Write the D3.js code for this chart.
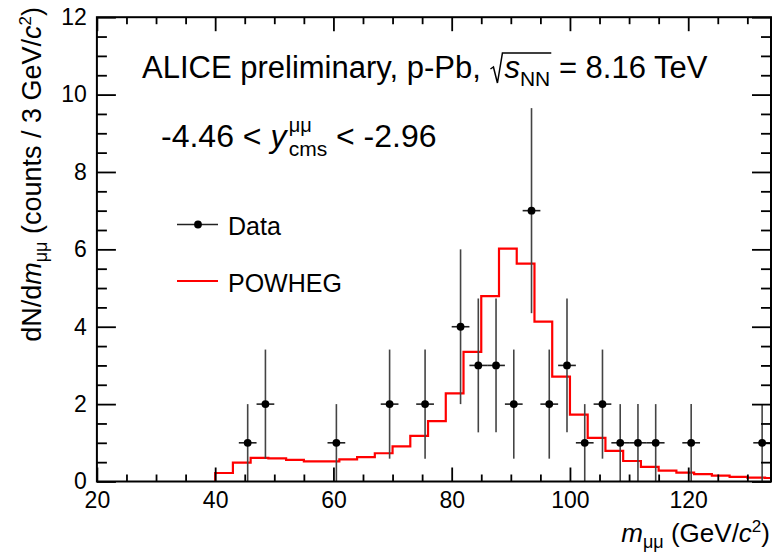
<!DOCTYPE html>
<html>
<head>
<meta charset="utf-8">
<script src="https://cdn.jsdelivr.net/npm/d3@7"></script>
<style>
  body { margin: 0; background: #fff; }
  svg { display: block; font-family: "Liberation Sans", Arial, Helvetica, sans-serif; }
  text { white-space: pre; }
  .tick line { stroke: #000; stroke-width: 1.8; }
  .tick text { fill: #000; font-size: 23px; }
</style>
</head>
<body>
<svg id="chart" width="773" height="553" xml:space="preserve"></svg>
<script>
// data points (bin centres in GeV/c2), counts and their errors
const dataMass   = [45.5, 48.5, 60.5, 69.5, 75.5, 81.5, 84.5, 87.5, 90.5, 93.5, 96.5, 99.5, 102.5, 105.5, 108.5, 111.5, 114.5, 120.5, 132.5];
const dataCounts = [1, 2, 1, 2, 2, 4, 3, 3, 2, 7, 2, 3, 1, 2, 1, 1, 1, 1, 1];
const dataErr    = [1, 1.41, 1, 1.41, 1.41, 2, 1.73, 1.73, 1.41, 2.65, 1.41, 1.73, 1, 1.41, 1, 1, 1, 1, 1];
const dataHalfBin = 1.5;

// POWHEG histogram, 3 GeV bins starting at 40
const powhegStart = 40;
const powhegBinW = 3;
const powhegVals = [0.22, 0.49, 0.61, 0.60, 0.56, 0.52, 0.52, 0.57, 0.63, 0.73, 0.91, 1.18, 1.56, 2.28,
                    3.35, 4.79, 6.02, 5.63, 4.13, 2.71, 1.73, 1.13, 0.79, 0.53, 0.38, 0.28, 0.23, 0.19,
                    0.15, 0.12, 0.10, 0.09];

const xMajor = [20, 40, 60, 80, 100, 120];
const xMinor = d3.range(25, 134, 5).filter(v => v % 20 !== 0);
const yMajor = [0, 2, 4, 6, 8, 10, 12];
const yMinor = d3.range(0.5, 12, 0.5).filter(v => v % 2 !== 0);

const svg = d3.select("#chart");
const L = 96.9, R = 771, T = 17.2, B = 481.5;
const x = d3.scaleLinear().domain([20, 134]).range([L, R]);
const y = d3.scaleLinear().domain([0, 12]).range([B, T]);

svg.append("rect").attr("width", 773).attr("height", 553).attr("fill", "#fff");

svg.append("clipPath").attr("id", "frameclip")
  .append("rect").attr("x", L).attr("y", T).attr("width", R - L).attr("height", B - T);

// rich text: runs laid out one after another, measured in the browser
function richText(parent, runs) {
  const g = parent.append("g");
  let cx = 0;
  const pos = {};
  runs.forEach(r => {
    if (r.space) { pos[r.id] = [cx, cx + r.space]; cx += r.space; return; }
    const parts = r.stack || [r];
    let adv = 0;
    parts.forEach(p => {
      const el = g.append("text")
        .attr("x", cx)
        .attr("y", p.dy || 0)
        .style("font-size", p.fs + "px")
        .style("font-style", p.i ? "italic" : "normal")
        .text(p.t);
      adv = Math.max(adv, el.node().getComputedTextLength());
    });
    if (r.id) pos[r.id] = [cx, cx + adv];
    cx += adv;
  });
  return { g: g, width: cx, pos: pos };
}

// POWHEG step line
const stepPts = [[powhegStart, 0]].concat(powhegVals.map((v, i) => [powhegStart + i * powhegBinW, v]));
stepPts.push([powhegStart + powhegVals.length * powhegBinW, powhegVals[powhegVals.length - 1]]);
svg.append("path")
  .attr("clip-path", "url(#frameclip)")
  .attr("d", d3.line().x(d => x(d[0])).y(d => y(d[1])).curve(d3.curveStepAfter)(stepPts))
  .attr("fill", "none")
  .attr("stroke", "#ff0000")
  .attr("stroke-width", 2.2);

// data with error bars
const pts = svg.append("g").selectAll("g").data(dataMass).join("g");
pts.append("line")
  .attr("x1", d => x(d)).attr("x2", d => x(d))
  .attr("y1", (d, i) => y(Math.max(0, dataCounts[i] - dataErr[i])))
  .attr("y2", (d, i) => y(dataCounts[i] + dataErr[i]))
  .attr("stroke", "#444").attr("stroke-width", 1.6);
pts.append("line")
  .attr("x1", d => x(d - dataHalfBin)).attr("x2", d => x(d + dataHalfBin))
  .attr("y1", (d, i) => y(dataCounts[i])).attr("y2", (d, i) => y(dataCounts[i]))
  .attr("stroke", "#222").attr("stroke-width", 1.6);
pts.append("circle")
  .attr("cx", d => x(d)).attr("cy", (d, i) => y(dataCounts[i]))
  .attr("r", 3.9).attr("fill", "#000");

// axes, ROOT style: ticks inside on all four sides
svg.append("g").attr("transform", `translate(0,${B})`)
  .call(d3.axisBottom(x).tickValues(xMajor).tickSize(-14).tickPadding(10).tickFormat(d3.format("d")))
  .call(g => g.select(".domain").remove());
svg.append("g").attr("transform", `translate(0,${B})`)
  .call(d3.axisBottom(x).tickValues(xMinor).tickSize(-7).tickFormat(""))
  .call(g => g.select(".domain").remove());
svg.append("g").attr("transform", `translate(0,${T})`)
  .call(d3.axisTop(x).tickValues(xMajor).tickSize(-14).tickFormat(""))
  .call(g => g.select(".domain").remove());
svg.append("g").attr("transform", `translate(0,${T})`)
  .call(d3.axisTop(x).tickValues(xMinor).tickSize(-7).tickFormat(""))
  .call(g => g.select(".domain").remove());

svg.append("g").attr("transform", `translate(${L},0)`)
  .call(d3.axisLeft(y).tickValues(yMajor).tickSize(-19).tickPadding(10).tickFormat(d3.format("d")))
  .call(g => g.select(".domain").remove());
svg.append("g").attr("transform", `translate(${L},0)`)
  .call(d3.axisLeft(y).tickValues(yMinor).tickSize(-10).tickFormat(""))
  .call(g => g.select(".domain").remove());
svg.append("g").attr("transform", `translate(${R},0)`)
  .call(d3.axisRight(y).tickValues(yMajor).tickSize(-19).tickFormat(""))
  .call(g => g.select(".domain").remove());
svg.append("g").attr("transform", `translate(${R},0)`)
  .call(d3.axisRight(y).tickValues(yMinor).tickSize(-10).tickFormat(""))
  .call(g => g.select(".domain").remove());

svg.selectAll(".tick text").attr("font-family", null);

svg.append("rect")
  .attr("x", L).attr("y", T).attr("width", R - L).attr("height", B - T)
  .attr("fill", "none").attr("stroke", "#000").attr("stroke-width", 2);

// header texts
const hdr = richText(svg, [
  { t: "ALICE preliminary, p-Pb, ", fs: 31 },
  { space: 15, id: "rad" },
  { t: "s", fs: 31, i: true },
  { t: "NN", fs: 21, dy: 8, id: "nn" },
  { t: " = 8.16 TeV", fs: 31 }
]);
hdr.g.attr("transform", "translate(142,78)");
const r0 = hdr.pos.rad[0], r1 = hdr.pos.nn[1];
hdr.g.append("path")
  .attr("d", `M${r0 + 1},-9 L${r0 + 4},-11 L${r0 + 8},5 L${r0 + 13},-25 L${r1 + 1},-25`)
  .attr("fill", "none").attr("stroke", "#000").attr("stroke-width", 1.5);

const rap = richText(svg, [
  { t: "-4.46 < ", fs: 32 },
  { t: "y", fs: 32, i: true },
  { t: " ", fs: 8 },
  { stack: [{ t: "μμ", fs: 20, dy: -15 }, { t: "cms", fs: 21, dy: 9 }] },
  { t: " < -2.96", fs: 32 }
]);
rap.g.attr("transform", "translate(161,147)");

// legend
const leg = svg.append("g");
leg.append("line").attr("x1", 177).attr("x2", 218).attr("y1", 224.5).attr("y2", 224.5)
  .attr("stroke", "#222").attr("stroke-width", 1.5);
leg.append("circle").attr("cx", 198).attr("cy", 224.5).attr("r", 3.9).attr("fill", "#000");
leg.append("text").attr("x", 228).attr("y", 235).style("font-size", "25px").text("Data");
leg.append("line").attr("x1", 177).attr("x2", 218).attr("y1", 281).attr("y2", 281)
  .attr("stroke", "#ff0000").attr("stroke-width", 2);
leg.append("text").attr("x", 228).attr("y", 292).style("font-size", "25px").text("POWHEG");

// axis titles
const xt = richText(svg, [
  { t: "m", fs: 26, i: true },
  { t: "μμ", fs: 18, dy: 6 },
  { t: " (GeV/", fs: 26 },
  { t: "c", fs: 26, i: true },
  { t: "2", fs: 17, dy: -10 },
  { t: ")", fs: 26 }
]);
xt.g.attr("transform", `translate(${770 - xt.width},542)`);

const yt = richText(svg, [
  { t: "dN/d", fs: 27 },
  { t: "m", fs: 27, i: true },
  { t: "μμ", fs: 18, dy: 6 },
  { t: " (counts / 3 GeV/", fs: 27 },
  { t: "c", fs: 27, i: true },
  { t: "2", fs: 17, dy: -10 },
  { t: ")", fs: 27 }
]);
yt.g.attr("transform", `translate(41,${7 + yt.width}) rotate(-90)`);
</script>
</body>
</html>
